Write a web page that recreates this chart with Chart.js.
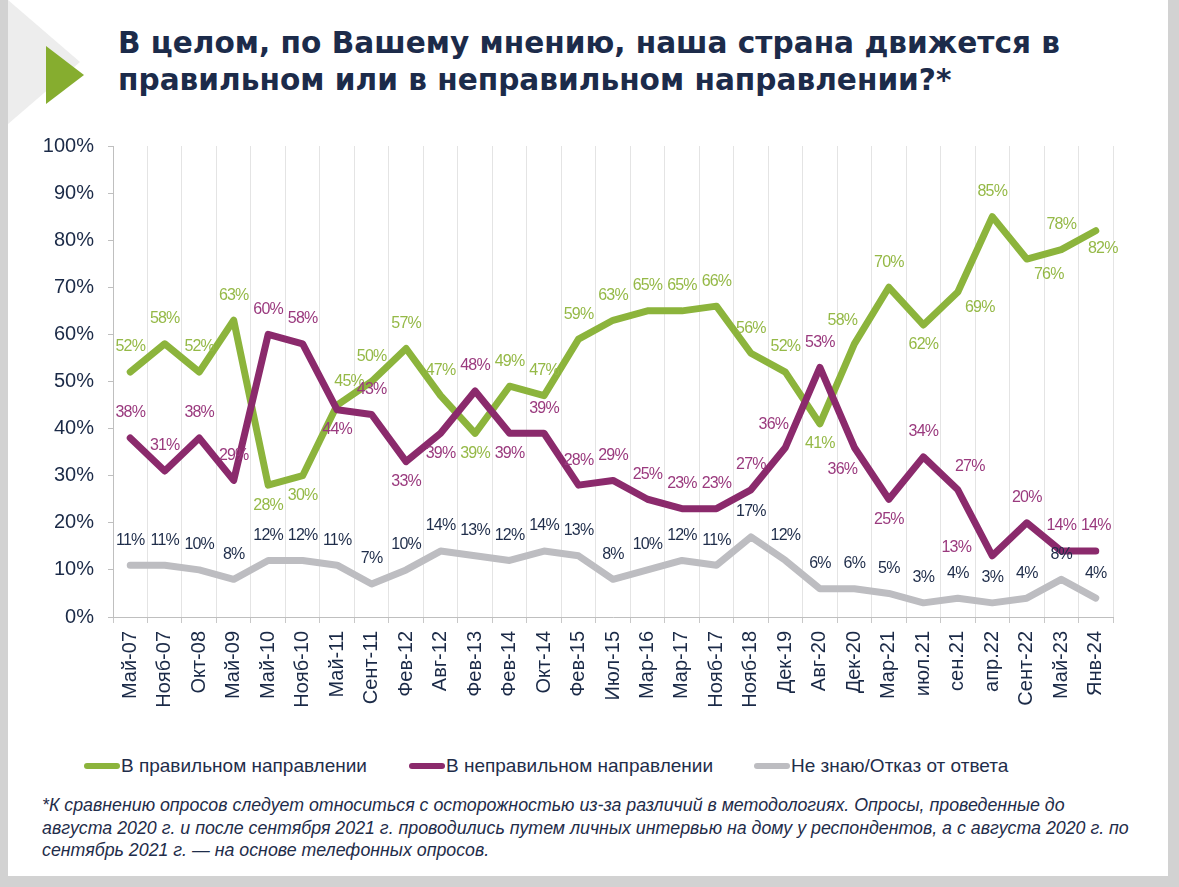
<!DOCTYPE html>
<html>
<head>
<meta charset="utf-8">
<script src="https://cdn.jsdelivr.net/npm/chart.js@4"></script>
<style>
  html, body { margin: 0; padding: 0; }
  body { width: 1179px; height: 887px; background: #d2d2d2; position: relative; overflow: hidden; }
  #card { position: absolute; left: 8px; top: 0; width: 1160px; height: 876px; background: #fff; }
  #tri1 { position: absolute; left: 8px; top: 0; width: 0; height: 0;
          border-top: 62px solid transparent; border-bottom: 62px solid transparent; border-left: 72px solid #ededed; }
  #tri2 { position: absolute; left: 46px; top: 46px; width: 0; height: 0;
          border-top: 29px solid transparent; border-bottom: 29px solid transparent; border-left: 38px solid #86ad2f; }
  #title { position: absolute; left: 118px; top: 25px; font-family: "DejaVu Sans", sans-serif; font-weight: bold;
           font-size: 29.6px; line-height: 37px; color: #1c2b4a; white-space: nowrap; }
  #wrap { position: absolute; left: 30px; top: 120px; width: 1110px; height: 610px; }
  #legend { position: absolute; top: 754px; left: 0; width: 1179px; height: 24px;
            font-family: "Liberation Sans", sans-serif; font-size: 19px; color: #1f2d4a; }
  .item { position: absolute; top: 0; white-space: nowrap; line-height: 24px; }
  .item span.sw { display: inline-block; width: 36px; height: 6px; border-radius: 3px; vertical-align: middle; margin-right: 1px; position: relative; top: -1px; }
  #note { position: absolute; left: 42px; top: 794px; font-family: "Liberation Sans", sans-serif; font-style: italic;
          font-size: 17.8px; line-height: 22.5px; color: #1f2d4a; white-space: nowrap; }
</style>
</head>
<body>
<div id="card"></div>
<div id="tri1"></div>
<div id="tri2"></div>
<div id="title">В целом, по Вашему мнению, наша страна движется в<br>правильном или в неправильном направлении?*</div>
<div id="wrap"><canvas id="myChart"></canvas></div>
<div id="legend">
  <div class="item" style="left:84px"><span class="sw" style="background:#8cb43c"></span>В правильном направлении</div>
  <div class="item" style="left:409px"><span class="sw" style="background:#8b2a6c"></span>В неправильном направлении</div>
  <div class="item" style="left:754px"><span class="sw" style="background:#bdbdc1"></span>Не знаю/Отказ от ответа</div>
</div>
<div id="note">*К сравнению опросов следует относиться с осторожностью из-за различий в методологиях. Опросы, проведенные до<br>августа 2020 г. и после сентября 2021 г. проводились путем личных интервью на дому у респондентов, а с августа 2020 г. по<br>сентябрь 2021 г. — на основе телефонных опросов.</div>

<script>
const labels = ["Май-07","Нояб-07","Окт-08","Май-09","Май-10","Нояб-10","Май-11","Сент-11","Фев-12","Авг-12",
                "Фев-13","Фев-14","Окт-14","Фев-15","Июл-15","Мар-16","Мар-17","Нояб-17","Нояб-18","Дек-19",
                "Авг-20","Дек-20","Мар-21","июл.21","сен.21","апр.22","Сент-22","Май-23","Янв-24"];
const rightDir = [52,58,52,63,28,30,45,50,57,47,39,49,47,59,63,65,65,66,56,52,41,58,70,62,69,85,76,78,82];
const wrongDir = [38,31,38,29,60,58,44,43,33,39,48,39,39,28,29,25,23,23,27,36,53,36,25,34,27,13,20,14,14];
const dontKnow = [11,11,10,8,12,12,11,7,10,14,13,12,14,13,8,10,12,11,17,12,6,6,5,3,4,3,4,8,4];
const yTicks = [0,10,20,30,40,50,60,70,80,90,100];

// where each value label sits relative to its point
const rightPlace = ["a","a","a","a","b","b","ar","a","a","a","b","a","a","a","a","a","a","a","a","a","b","al","a","b","br","a","br","a","br2"];
const wrongPlace = ["a","a","a","a","a","a","b","a","b","b","a","b","a","a","a","a","a","a","a","al","a","bl","b","a","ar","l","a","a","a"];
const dkPlace = labels.map(() => "a");

const shifts = {
    a: [0,-25], b: [0,20], al: [-12,-23], ar: [12,-23], bl: [-12,22],
    br: [22,16], br2: [7,18], l: [-36,-8]
};

const valueLabels = {
    id: "valueLabels",
    afterDatasetsDraw(chart) {
        const ctx = chart.ctx;
        ctx.save();
        ctx.font = "16px 'Liberation Sans'";
        ctx.letterSpacing = "-0.8px";
        ctx.textAlign = "center";
        ctx.textBaseline = "middle";
        chart.data.datasets.forEach((ds, i) => {
            const meta = chart.getDatasetMeta(i);
            meta.data.forEach((pt, j) => {
                const s = shifts[ds.place[j]];
                ctx.fillStyle = ds.labelColor;
                ctx.fillText(ds.data[j] + "%", pt.x + s[0], pt.y + s[1]);
            });
        });
        ctx.restore();
    }
};

const data = {
    type: "line",
    data: {
        labels: labels,
        datasets: [{
            label: "В правильном направлении",
            data: rightDir,
            borderColor: "#8cb43c",
            labelColor: "#95b947",
            place: rightPlace,
            order: 1
        }, {
            label: "В неправильном направлении",
            data: wrongDir,
            borderColor: "#8b2a6c",
            labelColor: "#9a3a7e",
            place: wrongPlace,
            order: 0
        }, {
            label: "Не знаю/Отказ от ответа",
            data: dontKnow,
            borderColor: "#bdbdc1",
            labelColor: "#1f2d4a",
            place: dkPlace,
            order: 2
        }]
    },
    options: {
        responsive: true,
        maintainAspectRatio: false,
        animation: false,
        layout: { padding: { top: 5, right: 27, left: 0, bottom: 0 } },
        elements: {
            line: { borderWidth: 7, tension: 0, borderJoinStyle: "round", borderCapStyle: "round", fill: false },
            point: { radius: 0, hoverRadius: 0 }
        },
        plugins: { legend: { display: false }, tooltip: { enabled: false } },
        scales: {
            x: {
                offset: true,
                grid: { offset: true, color: "#e4e4e4", tickLength: 6, tickColor: "#c8c8c8" },
                border: { color: "#bfbfbf" },
                ticks: {
                    autoSkip: false, minRotation: 90, maxRotation: 90, padding: 8,
                    color: "#1b2a47", font: { family: "Liberation Sans", size: 20 }
                },
                afterFit(scale) { scale.height = 113; }
            },
            y: {
                min: 0, max: 100,
                afterBuildTicks(scale) { scale.ticks = yTicks.map(v => ({ value: v })); },
                grid: { drawOnChartArea: false, tickLength: 5, tickColor: "#bfbfbf" },
                border: { color: "#bfbfbf" },
                ticks: {
                    padding: 14, color: "#1b2a47",
                    font: { family: "Liberation Sans", size: 20 },
                    callback: v => v + "%"
                },
                afterFit(scale) { scale.width = 83; }
            }
        }
    },
    plugins: [valueLabels]
};

new Chart("myChart", data);
</script>
</body>
</html>
